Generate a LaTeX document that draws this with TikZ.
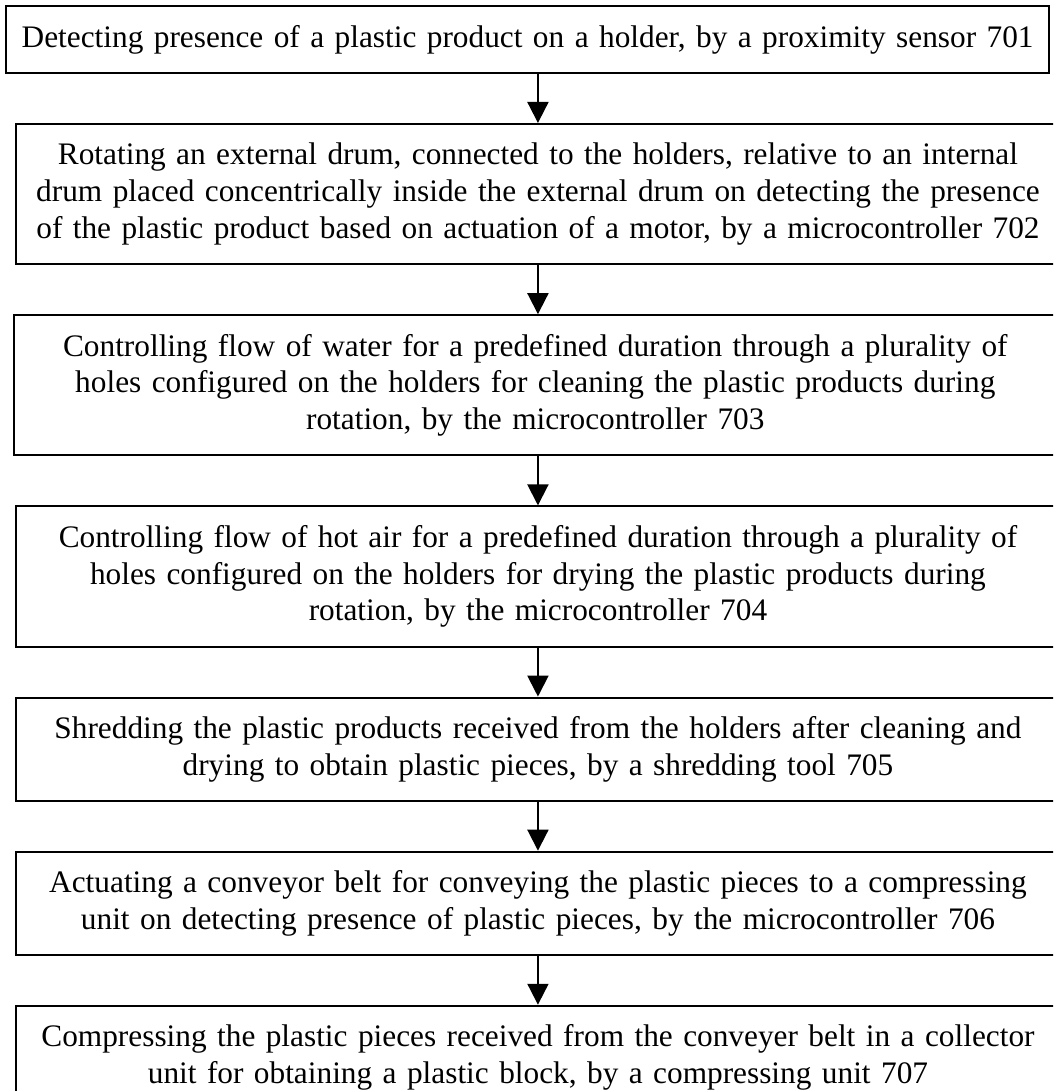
\documentclass[tikz,border=0pt]{standalone}
\usepackage{fontspec}
\setmainfont{Liberation Serif}
\usetikzlibrary{shapes,arrows.meta,positioning}

\begin{document}
\begin{tikzpicture}[node distance=18.5pt]
  \tikzstyle{stepbox}=[rectangle, draw, line width=0.75pt, minimum width=393.4pt, text width=389pt, inner xsep=2pt, align=center, font=\fontsize{11.8pt}{13.8pt}\selectfont]
  \tikzstyle{flow}=[line width=0.75pt, -{Triangle[length=7.9pt,width=7.9pt]}]

  \useasboundingbox (0,0) rectangle (396.8pt,-411.1pt);
  \clip (0,0) rectangle (396.8pt,-411.1pt);

  % Paso 701
  \node[stepbox, minimum width=393pt, minimum height=25.2pt] (s1) at (198.8pt,-14.86pt) {Detecting presence of a plastic product on a holder, by a proximity sensor 701};

  % Paso 702
  \node[stepbox, minimum height=52.8pt, below=of s1, xshift=3.9pt] (s2) {Rotating an external drum, connected to the holders, relative to an internal\\ drum placed concentrically inside the external drum on detecting the presence\\ of the plastic product based on actuation of a motor, by a microcontroller 702};

  % Paso 703
  \node[stepbox, minimum width=391.4pt, minimum height=52.8pt, below=of s2, xshift=-1pt] (s3) {Controlling flow of water for a predefined duration through a plurality of\\ holes configured on the holders for cleaning the plastic products during\\ rotation, by the microcontroller 703};

  % Paso 704
  \node[stepbox, minimum height=52.8pt, below=of s3, xshift=1pt] (s4) {Controlling flow of hot air for a predefined duration through a plurality of\\ holes configured on the holders for drying the plastic products during\\ rotation, by the microcontroller 704};

  % Paso 705
  \node[stepbox, minimum height=38.8pt, below=of s4] (s5) {Shredding the plastic products received from the holders after cleaning and\\ drying to obtain plastic pieces, by a shredding tool 705};

  % Paso 706
  \node[stepbox, minimum height=38.8pt, below=of s5] (s6) {Actuating a conveyor belt for conveying the plastic pieces to a compressing\\ unit on detecting presence of plastic pieces, by the microcontroller 706};

  % Paso 707
  \node[stepbox, minimum height=38.8pt, below=of s6] (s7) {Compressing the plastic pieces received from the conveyer belt in a collector\\ unit for obtaining a plastic block, by a compressing unit 707};

  % Flechas
  \draw[flow] (s2.north |- s1.south) -- (s2.north);
  \draw[flow] (s2.south) -- (s2.south |- s3.north);
  \draw[flow] (s4.north |- s3.south) -- (s4.north);
  \draw[flow] (s4) -- (s5);
  \draw[flow] (s5) -- (s6);
  \draw[flow] (s6) -- (s7);
\end{tikzpicture}
\end{document}
